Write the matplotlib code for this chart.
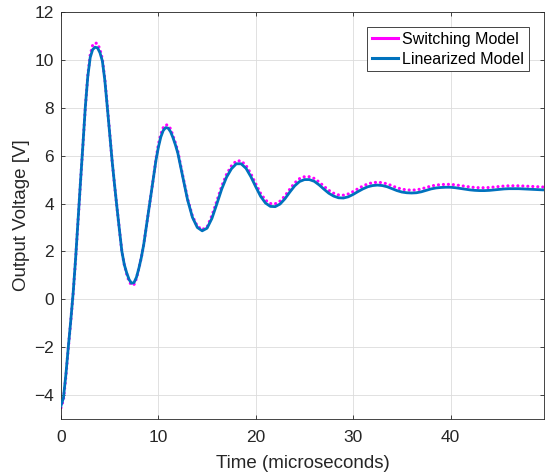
import numpy as np
import matplotlib
matplotlib.use("Agg")
import matplotlib.pyplot as plt
from matplotlib.lines import Line2D

plt.rcParams['font.family'] = ['Liberation Sans', 'DejaVu Sans']

# time axis, microseconds
t_us = [0, 0.25, 0.5, 0.75, 1, 1.25, 1.5, 1.75, 2, 2.25, 2.5, 2.75,
        3, 3.25, 3.5, 3.75, 4, 4.25, 4.5, 4.75, 5, 5.25, 5.5, 5.75,
        6, 6.25, 6.5, 6.75, 7, 7.25, 7.5, 7.75, 8, 8.25, 8.5, 8.75,
        9, 9.25, 9.5, 9.75, 10, 10.25, 10.5, 10.75, 11, 11.25, 11.5, 11.75,
        12, 12.5, 13, 13.5, 14, 14.5, 15, 15.5, 16, 16.5, 17, 17.5,
        18, 18.5, 19, 19.5, 20, 20.5, 21, 21.5, 22, 22.5, 23, 23.5,
        24, 24.5, 25, 25.5, 26, 26.5, 27, 27.5, 28, 28.5, 29, 29.5,
        30, 30.5, 31, 31.5, 32, 32.5, 33, 33.5, 34, 34.5, 35, 35.5,
        36, 36.5, 37, 37.5, 38, 38.5, 39, 39.5, 40, 40.5, 41, 41.5,
        42, 42.5, 43, 43.5, 44, 44.5, 45, 45.5, 46, 46.5, 47, 47.5,
        48, 48.5, 49, 49.5, 49.6]

# linearized model output voltage [V]
v_linear = [-4.45, -4.12, -3.15, -2.00, -0.90, 0.28, 1.70, 3.30, 4.90, 6.45, 8.05, 9.30,
            10.10, 10.43, 10.53, 10.50, 10.30, 9.95, 9.15, 8.05, 6.92, 5.78, 4.78, 3.82,
            2.90, 2.00, 1.45, 1.10, 0.82, 0.67, 0.70, 0.92, 1.30, 1.75, 2.30, 3.00,
            3.70, 4.40, 5.10, 5.80, 6.35, 6.78, 7.05, 7.17, 7.15, 7.00, 6.75, 6.45,
            6.10, 5.12, 4.15, 3.42, 3.00, 2.86, 2.97, 3.38, 3.98, 4.60, 5.10, 5.45,
            5.66, 5.66, 5.47, 5.12, 4.70, 4.30, 4.02, 3.88, 3.87, 3.98, 4.20, 4.48,
            4.74, 4.92, 5.00, 5.00, 4.93, 4.78, 4.60, 4.43, 4.31, 4.24, 4.23, 4.28,
            4.38, 4.50, 4.61, 4.70, 4.75, 4.77, 4.75, 4.70, 4.62, 4.54, 4.48, 4.45,
            4.44, 4.45, 4.49, 4.55, 4.61, 4.65, 4.67, 4.68, 4.68, 4.66, 4.63, 4.60,
            4.57, 4.55, 4.54, 4.54, 4.55, 4.57, 4.59, 4.61, 4.62, 4.62, 4.62, 4.61,
            4.60, 4.59, 4.58, 4.57, 4.57]

# switching model, ripple peaks [V]
v_switch = [-4.53, -4.20, -3.23, -2.03, -0.93, 0.25, 1.67, 3.27, 4.87, 6.42, 8.02, 9.35,
            10.22, 10.61, 10.71, 10.68, 10.44, 10.03, 9.20, 8.10, 6.95, 5.78, 4.78, 3.82,
            2.90, 2.00, 1.45, 1.05, 0.74, 0.59, 0.62, 0.87, 1.30, 1.75, 2.30, 3.00,
            3.70, 4.40, 5.10, 5.85, 6.47, 6.90, 7.17, 7.29, 7.27, 7.12, 6.83, 6.53,
            6.18, 5.17, 4.20, 3.47, 3.05, 2.91, 3.02, 3.50, 4.10, 4.72, 5.22, 5.57,
            5.78, 5.78, 5.59, 5.24, 4.82, 4.42, 4.14, 4.00, 3.99, 4.10, 4.32, 4.60,
            4.86, 5.04, 5.12, 5.12, 5.05, 4.90, 4.72, 4.55, 4.43, 4.36, 4.35, 4.40,
            4.50, 4.62, 4.73, 4.82, 4.87, 4.89, 4.87, 4.82, 4.74, 4.66, 4.60, 4.57,
            4.56, 4.57, 4.61, 4.67, 4.73, 4.77, 4.79, 4.80, 4.80, 4.78, 4.75, 4.72,
            4.69, 4.67, 4.66, 4.66, 4.67, 4.69, 4.71, 4.73, 4.74, 4.74, 4.74, 4.73,
            4.72, 4.71, 4.70, 4.69, 4.69]

y_ticks = [-4, -2, 0, 2, 4, 6, 8, 10, 12]
x_ticks = [0, 10, 20, 30, 40]

fig = plt.figure(figsize=(5.51, 4.75), dpi=100)
ax = fig.add_axes([61/551, 56/475, 483/551, 407/475])

# switching ripple shows up as dots riding on top of the linear curve
ax.plot(t_us, v_switch, color='#FF00FF', lw=2.3, linestyle=(0, (0.01, 1.55)),
        dash_capstyle='round', zorder=2)
ax.plot(t_us, v_linear, color='#0072BD', lw=2.0, zorder=3)

ax.set_xlim(0, 49.6)
ax.set_ylim(-5, 12)
ax.set_xticks(x_ticks)
ax.set_yticks(y_ticks)
ax.grid(True, color='#dcdcdc', lw=0.6)
ax.set_axisbelow(True)
ax.tick_params(direction='in', length=3, width=0.6, top=True, right=True,
               labelsize=12.5, colors='#262626', labelcolor='#262626')
ax.tick_params(axis='x', pad=8)
ax.tick_params(axis='y', pad=5)
for s in ax.spines.values():
    s.set_color('#262626')
    s.set_linewidth(0.6)

ax.set_xlabel('Time (microseconds)', fontsize=13.5, color='#262626', labelpad=7)
ax.set_ylabel('Output Voltage [V]', fontsize=13.5, color='#262626', labelpad=3)

handles = [Line2D([], [], color='#FF00FF', lw=2.2),
           Line2D([], [], color='#0072BD', lw=2.2)]
leg = ax.legend(handles, ['Switching Model', 'Linearized Model'], loc='upper right',
                bbox_to_anchor=(0.969, 0.963), borderaxespad=0, fontsize=11.5,
                fancybox=False, framealpha=1, edgecolor='#262626',
                handlelength=1.6, handletextpad=0.3, borderpad=0.3, labelspacing=0.3)
leg.get_frame().set_linewidth(0.6)

fig.savefig('out.png', dpi=100)
